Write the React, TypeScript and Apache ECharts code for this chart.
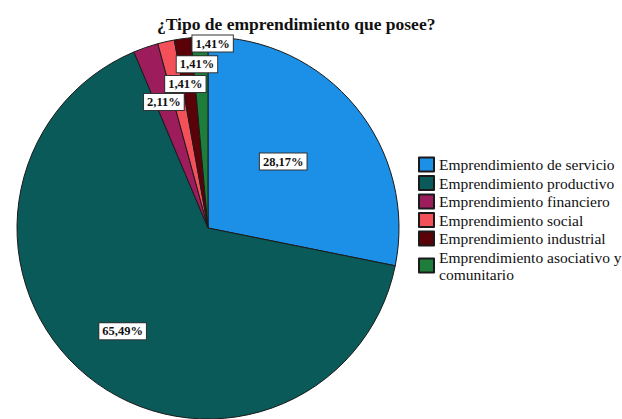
import React, { useEffect, useRef } from "react";
import * as echarts from "echarts";

const categories = [
  "Emprendimiento de servicio",
  "Emprendimiento productivo",
  "Emprendimiento financiero",
  "Emprendimiento social",
  "Emprendimiento industrial",
  "Emprendimiento asociativo y comunitario",
];
const percentages = [28.17, 65.49, 2.11, 1.41, 1.41, 1.41];
const colors = ["#1c8fe6", "#0b5a5a", "#9c1c5c", "#f4505a", "#5a0208", "#1f7d3c"];
const labelShift = [
  [-1, -4],
  [-23, 27],
  [-12, -33],
  [-1, -48],
  [2, -66],
  [9, -86],
];

const serif = "Liberation Serif";

export default function App() {
  const ref = useRef<HTMLDivElement>(null);
  useEffect(() => {
    if (!ref.current) return;
    const chart = echarts.init(ref.current, null, { renderer: "svg" });
    chart.setOption({
      animation: false,
      backgroundColor: "#ffffff",
      title: {
        text: "¿Tipo de emprendimiento que posee?",
        left: 152,
        top: 10,
        textStyle: { fontFamily: serif, fontWeight: "bold", fontSize: 17.5, color: "#111" },
      },
      legend: {
        orient: "vertical",
        left: 413,
        top: 151,
        itemWidth: 15,
        itemHeight: 14,
        itemGap: 1.5,
        icon: "rect",
        data: categories,
        formatter: (name: string) =>
          name === "Emprendimiento asociativo y comunitario"
            ? "Emprendimiento asociativo y\ncomunitario"
            : name,
        textStyle: { fontFamily: serif, fontSize: 15.5, color: "#111", lineHeight: 17 },
      },
      series: [
        {
          type: "pie",
          center: [208, 228],
          radius: 191,
          startAngle: 90,
          clockwise: true,
          avoidLabelOverlap: false,
          itemStyle: { borderColor: "#1a1a1a", borderWidth: 1 },
          label: {
            position: "inside",
            formatter: (p: any) => `${p.value.toFixed(2).replace(".", ",")}%`,
            fontFamily: serif,
            fontWeight: "bold",
            fontSize: 12.5,
            color: "#111",
            backgroundColor: "#ffffff",
            borderColor: "#333",
            borderWidth: 1,
            padding: [2, 3, 1, 3],
          },
          labelLine: { show: false },
          emphasis: { disabled: true },
          labelLayout: (params: any) => ({
            dx: labelShift[params.dataIndex][0],
            dy: labelShift[params.dataIndex][1],
          }),
          data: categories.map((name, i) => ({
            name,
            value: percentages[i],
            itemStyle: { color: colors[i] },
          })),
        },
      ],
    });
    return () => chart.dispose();
  }, []);
  return (
    <div
      ref={ref}
      style={{ position: "fixed", left: 0, top: 0, width: 622, height: 419 }}
    />
  );
}
